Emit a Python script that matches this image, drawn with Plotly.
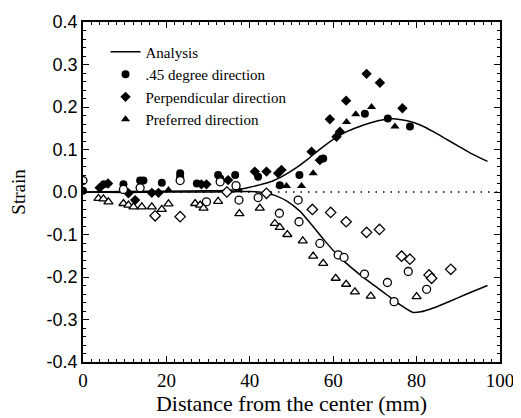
import plotly.graph_objects as go

# Analysis curves
ana_up_x = [0, 10, 20, 30, 36, 39, 42, 45, 48, 51, 54, 57, 60, 63, 66, 69, 72, 75, 78, 81, 84, 87, 90, 93, 97]
ana_up_y = [0, 0.001, 0.002, 0.003, 0.005, 0.009, 0.016, 0.024, 0.038, 0.056, 0.078, 0.102, 0.124, 0.141, 0.153, 0.163, 0.170, 0.172, 0.167, 0.157, 0.142, 0.125, 0.108, 0.091, 0.072]
ana_lo_x = [0, 10, 20, 30, 40, 43, 46, 49, 52, 55, 58, 61, 64, 67, 70, 73, 76, 79, 81, 84, 88, 92, 97]
ana_lo_y = [0, -0.001, 0, 0, 0.001, -0.001, -0.008, -0.022, -0.045, -0.079, -0.115, -0.148, -0.175, -0.199, -0.221, -0.243, -0.265, -0.283, -0.282, -0.273, -0.257, -0.240, -0.220]

# 45 degree direction (circles)
c45_fill_x = [0, 5, 9.7, 13.7, 14.5, 18.9, 23.3, 23.3, 27.3, 32.4, 32.9, 36.5, 42, 47.2, 51.9, 57.6, 67.6, 73.1, 78.4]
c45_fill_y = [0.003, 0.018, 0.018, 0.027, 0.027, 0.022, 0.044, 0.036, 0.02, 0.04, 0.032, 0.04, 0.036, 0.016, 0.04, 0.079, 0.184, 0.173, 0.154]
c45_open_x = [0, 9.7, 13.7, 23.3, 29.6, 32.9, 36.7, 37.4, 42, 47.1, 51.6, 51.8, 56.8, 61.2, 62.6, 67.5, 73, 74.6, 78, 82.4]
c45_open_y = [0.027, 0.006, 0.01, 0.027, -0.023, 0.024, 0.015, -0.019, -0.013, -0.05, -0.019, -0.07, -0.121, -0.148, -0.154, -0.193, -0.213, -0.258, -0.187, -0.229]

# Perpendicular direction (diamonds)
perp_fill_x = [4, 6, 10.9, 12.5, 16.5, 18.1, 28.4, 29.6, 34.8, 41.2, 44, 46.8, 47.6, 54.8, 56.8, 59.2, 60.8, 61.6, 63.1, 68, 71.2, 76.6]
perp_fill_y = [0.01, 0.02, -0.003, -0.019, -0.002, -0.002, 0.018, 0.018, 0.028, 0.048, 0.048, 0.044, 0.052, 0.095, 0.075, 0.171, 0.13, 0.142, 0.215, 0.278, 0.257, 0.197]
perp_open_x = [17.3, 23.3, 34.5, 44, 55, 59.4, 63.1, 68, 71.1, 76.4, 78.4, 83, 83.6, 88.2]
perp_open_y = [-0.056, -0.058, 0, -0.003, -0.041, -0.048, -0.07, -0.095, -0.088, -0.151, -0.158, -0.195, -0.203, -0.182]

# Preferred direction (triangles)
pref_fill_x = [20.5, 37.3, 47.2, 48.8, 52.4, 55.2, 63.2, 65.4, 69.2, 74.8]
pref_fill_y = [0.005, 0.006, 0.016, 0.014, 0.014, 0.044, 0.165, 0.183, 0.2, 0.154]
pref_open_x = [3.7, 4.9, 6.1, 9.7, 10.9, 12.1, 14.1, 16.5, 18.9, 20.5, 26.9, 28.1, 28.9, 32.4, 37.5, 42.4, 46, 47.2, 49, 52.7, 55.2, 57.6, 60.6, 63.1, 65.2, 69, 80]
pref_open_y = [-0.015, -0.016, -0.023, -0.027, -0.031, -0.035, -0.035, -0.035, -0.041, -0.028, -0.027, -0.031, -0.038, -0.022, -0.051, -0.038, -0.074, -0.083, -0.1, -0.115, -0.151, -0.168, -0.203, -0.217, -0.235, -0.245, -0.246]

x_ticks = [0, 20, 40, 60, 80, 100]
y_ticks = [-0.4, -0.3, -0.2, -0.1, 0.0, 0.1, 0.2, 0.3, 0.4]

fig = go.Figure()
line_style = dict(color="black", width=1.5, shape="spline", smoothing=0.6)
fig.add_trace(go.Scatter(x=ana_up_x, y=ana_up_y, mode="lines", line=line_style,
                         name="Analysis"))
fig.add_trace(go.Scatter(x=ana_lo_x, y=ana_lo_y, mode="lines", line=line_style,
                         showlegend=False))

fig.add_trace(go.Scatter(x=c45_fill_x, y=c45_fill_y, mode="markers", name=".45 degree direction",
                         marker=dict(symbol="circle", size=8, color="black")))
fig.add_trace(go.Scatter(x=perp_fill_x, y=perp_fill_y, mode="markers", name="Perpendicular direction",
                         marker=dict(symbol="diamond", size=8, color="black")))
fig.add_trace(go.Scatter(x=pref_fill_x, y=pref_fill_y, mode="markers", name="Preferred direction",
                         marker=dict(symbol="triangle-up", size=8, color="black")))

open_m = dict(color="white", line=dict(color="black", width=1.3))
fig.add_trace(go.Scatter(x=c45_open_x, y=c45_open_y, mode="markers", showlegend=False,
                         marker=dict(symbol="circle", size=8, **open_m)))
fig.add_trace(go.Scatter(x=perp_open_x, y=perp_open_y, mode="markers", showlegend=False,
                         marker=dict(symbol="diamond", size=8, **open_m)))
fig.add_trace(go.Scatter(x=pref_open_x, y=pref_open_y, mode="markers", showlegend=False,
                         marker=dict(symbol="triangle-up", size=8, **open_m)))

fig.add_shape(type="line", xref="x", yref="y", x0=0, x1=100, y0=0, y1=0,
              line=dict(color="black", width=1.5, dash="1.5px,6px"), layer="below")

axis_common = dict(showline=True, linecolor="black", linewidth=1.5, mirror="allticks",
                   ticks="inside", ticklen=6, tickwidth=1.2, tickcolor="black",
                   showgrid=False, zeroline=False, automargin=False)

fig.update_layout(
    width=513, height=410,
    margin=dict(l=75, r=21, t=14, b=56),
    paper_bgcolor="white", plot_bgcolor="white",
    font=dict(family="Liberation Serif", color="black"),
    xaxis=dict(range=[0, 100], tickvals=x_ticks, ticktext=[str(v) for v in x_ticks],
               tickfont=dict(family="Liberation Serif", size=19, color="black"),
               minor=dict(ticks="inside", dtick=2, ticklen=3, tickcolor="black", tickwidth=1),
               title=dict(text="Distance from the center (mm)",
                          font=dict(size=22, color="black"), standoff=0),
               **axis_common),
    yaxis=dict(range=[-0.4, 0.4], tickvals=y_ticks, ticktext=[f"{v:.1f}" for v in y_ticks],
               tickfont=dict(family="Liberation Sans", size=18, color="black"),
               minor=dict(ticks="inside", dtick=0.02, ticklen=3, tickcolor="black", tickwidth=1),
               title=dict(text="Strain", font=dict(size=19, color="black"), standoff=16),
               **axis_common),
    legend=dict(x=0.054, y=0.96, xanchor="left", yanchor="top", bgcolor="rgba(0,0,0,0)",
                font=dict(family="Liberation Serif", size=15, color="black"), tracegroupgap=0),
    showlegend=True,
)

fig.write_html("out.html")
